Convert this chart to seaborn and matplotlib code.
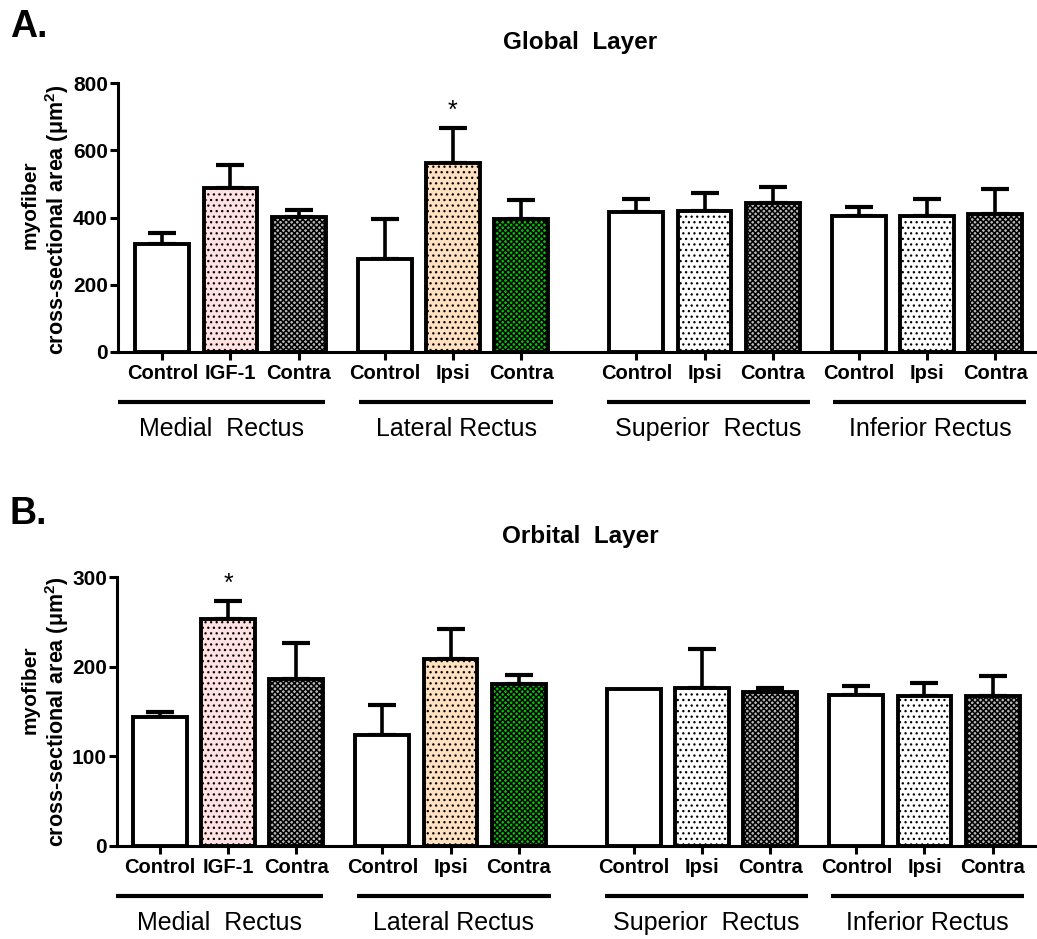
import matplotlib
matplotlib.use("Agg")
import matplotlib.pyplot as plt
import seaborn as sns
import numpy as np
import pandas as pd

# ---------------- data ----------------
group_names = ["Medial  Rectus", "Lateral Rectus", "Superior  Rectus", "Inferior Rectus"]
condition_labels = ["Control", "IGF-1", "Contra",
                    "Control", "Ipsi", "Contra",
                    "Control", "Ipsi", "Contra",
                    "Control", "Ipsi", "Contra"]
treatment = ["control", "igf1", "contra",
             "control", "ipsi_lr", "contra_lr",
             "control", "ipsi", "contra",
             "control", "ipsi", "contra"]

global_mean = [321, 487, 401, 276, 561, 395, 417, 420, 444, 405, 405, 410]
global_sem = [32, 69, 20, 121, 105, 57, 38, 52, 48, 27, 49, 74]
global_sig = [False, False, False, False, True, False, False, False, False, False, False, False]

orbital_mean = [144, 253, 186, 124, 209, 181, 175, 176, 172, 168, 167, 167]
orbital_sem = [6, 20, 41, 33, 33, 10, 0, 44, 4, 10, 15, 23]
orbital_sig = [False, True, False, False, False, False, False, False, False, False, False, False]

# ---------------- styles / layout ----------------
styles = {
    "control":   ("white",   None),
    "igf1":      ("#FFE1E1", "..."),
    "contra":    ("#B8B8B8", "xxxxxx"),
    "ipsi_lr":   ("#FFE0C0", "..."),
    "contra_lr": ("#00C800", "xxxxxx"),
    "ipsi":      ("white",   "..."),
}
group_offsets = [0.0, 3.26, 6.95, 10.21]
line_starts = [-0.65, -0.37, -0.43, -0.37]
line_ends = [2.39, 2.47, 2.55, 2.46]
positions = [off + k for off in group_offsets for k in range(3)]

sns.set_style("ticks")
plt.rcParams["font.family"] = ["Liberation Sans", "DejaVu Sans"]
plt.rcParams["mathtext.fontset"] = "custom"
plt.rcParams["mathtext.rm"] = "Liberation Sans"
plt.rcParams["mathtext.it"] = "Liberation Sans:italic"
plt.rcParams["mathtext.bf"] = "Liberation Sans:bold"
plt.rcParams["hatch.linewidth"] = 0.9
for key in ("text.color", "axes.labelcolor", "xtick.color", "ytick.color", "axes.edgecolor"):
    plt.rcParams[key] = "black"

W, H = 1037, 939
fig = plt.figure(figsize=(W / 100, H / 100), dpi=100)

ax_top = fig.add_axes([118.3 / W, (H - 351.7) / H, (W - 118.3) / W, 268.4 / H])
ax_bot = fig.add_axes([117.3 / W, (H - 845.7) / H, (W - 117.3) / W, 268.4 / H])


def draw_panel(ax, means, sems, sig, ymax, ystep, xlim):
    df = pd.DataFrame({"pos": positions, "value": means, "sem": sems})
    sns.barplot(data=df, x="pos", y="value", native_scale=True, width=0.79,
                color="white", edgecolor="black", linewidth=2.8,
                errorbar=None, ax=ax, zorder=3)
    bars = sorted(ax.patches, key=lambda p: p.get_x())
    for bar, t in zip(bars, treatment):
        fc, hatch = styles[t]
        bar.set_facecolor(fc)
        bar.set_edgecolor("black")
        if hatch:
            bar.set_hatch(hatch)
            if hasattr(bar, "set_hatch_linewidth"):
                bar.set_hatch_linewidth(1.1 if "x" in hatch else 0.9)
    err = df[df["sem"] > 0]
    ax.errorbar(err["pos"], err["value"], yerr=[np.zeros(len(err)), err["sem"]], fmt="none",
                ecolor="black", elinewidth=2.6, capsize=10, capthick=3.0, zorder=2)
    for p, m, s, flag in zip(positions, means, sems, sig):
        if flag:
            ax.annotate("*", xy=(p, m + s), xytext=(0, 4), textcoords="offset points",
                        ha="center", va="bottom", fontsize=18)
    ax.set_xlim(*xlim)
    ax.set_ylim(0, ymax)
    ax.set_yticks(np.arange(0, ymax + 1, ystep))
    ax.set_xticks(positions)
    ax.set_xticklabels(condition_labels)
    ax.set_xlabel("")
    ax.set_ylabel("")
    for side in ("top", "right"):
        ax.spines[side].set_visible(False)
    for side in ("left", "bottom"):
        ax.spines[side].set_linewidth(2.2)
        ax.spines[side].set_color("black")
    ax.tick_params(axis="both", direction="out", length=6, width=2.2, color="black",
                   labelcolor="black")
    ax.tick_params(axis="x", pad=3, labelsize=14.5)
    ax.tick_params(axis="y", pad=1.5, labelsize=15)
    for lab in ax.get_xticklabels() + ax.get_yticklabels():
        lab.set_fontweight("bold")
    trans = ax.get_xaxis_transform()
    for g, name in enumerate(group_names):
        x0 = group_offsets[g] + line_starts[g]
        x1 = group_offsets[g] + line_ends[g]
        ax.plot([x0, x1], [-0.186, -0.186], transform=trans, clip_on=False,
                color="black", lw=3, solid_capstyle="butt")
        ax.text((x0 + x1) / 2, -0.287, name, transform=trans, ha="center",
                va="center", fontsize=18, color="black")


draw_panel(ax_top, global_mean, global_sem, global_sig, 800, 200, (-0.645, 12.825))
draw_panel(ax_bot, orbital_mean, orbital_sem, orbital_sig, 300, 100, (-0.626, 12.86))

# titles
fig.text(580 / W, 1 - 42 / H, "Global  Layer", ha="center", va="center",
         fontsize=17.5, fontweight="bold")
fig.text(580 / W, 1 - 536 / H, "Orbital  Layer", ha="center", va="center",
         fontsize=17.5, fontweight="bold")

# panel letters
fig.text(10 / W, 1 - 37 / H, "A.", fontsize=27, fontweight="bold", va="baseline")
fig.text(10 / W, 1 - 524 / H, "B.", fontsize=27, fontweight="bold", va="baseline")

# y labels
ylab2 = "cross-sectional area ($\\mathregular{\\mu m^{2}}$)"
for y1, y2 in ((205, 220), (690, 712)):
    fig.text(30 / W, 1 - y1 / H, "myofiber", rotation=90, ha="center", va="center",
             fontsize=15, fontweight="bold")
    fig.text(57 / W, 1 - y2 / H, ylab2, rotation=90, ha="center", va="center",
             fontsize=15.5, fontweight="bold")

fig.savefig("out.png", dpi=100)
